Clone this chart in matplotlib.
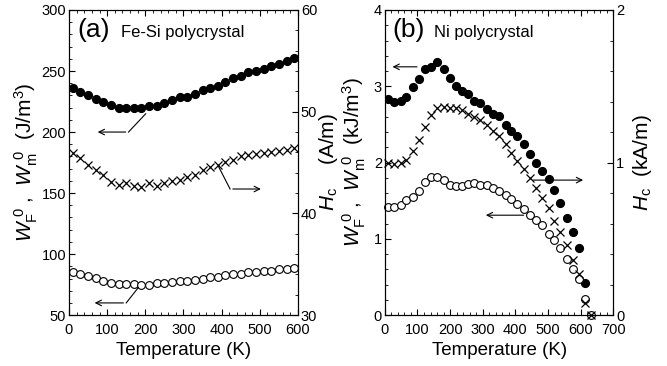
import matplotlib
matplotlib.use("Agg")
import matplotlib.pyplot as plt
from matplotlib.ticker import MultipleLocator

plt.rcParams['font.family'] = ['Liberation Sans', 'DejaVu Sans']
plt.rcParams['mathtext.fontset'] = 'custom'
plt.rcParams['mathtext.rm'] = 'Liberation Sans'
plt.rcParams['mathtext.it'] = 'Liberation Sans:italic'

# (a) Fe-Si polycrystal
t_a = [10, 30, 50, 70, 90, 110, 130, 150, 170, 190, 210, 230, 250, 270, 290,
       310, 330, 350, 370, 390, 410, 430, 450, 470, 490, 510, 530, 550, 570, 590]
wf_a = [236, 233, 230, 227, 225, 222, 219.5, 219.5, 219.5, 219.5, 221.5, 221.5, 224, 226.5, 228.5,
        229, 231.5, 234.5, 236, 238, 241, 244, 246, 249, 250, 252, 254.5, 256, 258, 261]
hc_a = [45.9, 45.4, 44.75, 44.3, 43.8, 43.1, 42.8, 43.0, 42.7, 42.6, 43.0, 42.7, 43.0, 43.2, 43.3,
        43.6, 43.8, 44.3, 44.6, 44.75, 45.1, 45.3, 45.6, 45.7, 45.8, 45.9, 46.0, 46.1, 46.2, 46.4]
wm_a = [85.5, 84, 82.2, 80.5, 78, 76.5, 75.5, 75.5, 75.5, 74.6, 74.6, 76, 76.5, 77.3, 78,
        78, 78.7, 80, 81.4, 81.4, 82.8, 83.6, 83.6, 85.5, 85.5, 86, 86.3, 88, 88, 88.8]

# (b) Ni polycrystal
t_b = [10, 29, 48, 66, 86, 104, 124, 142, 161, 181, 199, 218, 236, 255, 273, 291, 312,
       332, 349, 370, 388, 406, 426, 445, 463, 480, 502, 519, 537, 557, 575, 595, 613]
wf_b = [2.83, 2.80, 2.81, 2.86, 2.99, 3.09, 3.23, 3.25, 3.32, 3.22, 3.11, 3.00, 2.94, 2.90, 2.81, 2.78, 2.70,
        2.64, 2.61, 2.49, 2.41, 2.35, 2.24, 2.11, 1.99, 1.89, 1.78, 1.64, 1.47, 1.27, 1.09, 0.875, 0.42]
hc_b = [1.0, 0.99, 1.0, 1.02, 1.075, 1.15, 1.235, 1.315, 1.355, 1.365, 1.36, 1.355, 1.345, 1.32, 1.30, 1.28, 1.245,
        1.21, 1.175, 1.12, 1.065, 1.01, 0.96, 0.90, 0.83, 0.765, 0.70, 0.62, 0.545, 0.46, 0.36, 0.27, 0.08]
wm_b = [1.42, 1.42, 1.45, 1.51, 1.55, 1.63, 1.74, 1.81, 1.81, 1.77, 1.71, 1.69, 1.69, 1.72, 1.73, 1.70, 1.70,
        1.66, 1.63, 1.57, 1.52, 1.46, 1.39, 1.31, 1.25, 1.18, 1.07, 0.98, 0.875, 0.74, 0.61, 0.48, 0.205]
tc_b = 632  # all quantities vanish at Curie point

fig = plt.figure(figsize=(6.67, 3.66), dpi=100)
ax1 = fig.add_axes([0.1034, 0.139, 0.3434, 0.8337])
ax2 = fig.add_axes([0.577, 0.139, 0.3425, 0.8337])

ms = 5.6
xlab_fs = 13.5
ylab_fs = 15
tick_fs = 10.5


def style(ax, xmaj, xmin, ymaj, ymin):
    ax.xaxis.set_major_locator(MultipleLocator(xmaj))
    ax.xaxis.set_minor_locator(MultipleLocator(xmin))
    ax.yaxis.set_major_locator(MultipleLocator(ymaj))
    ax.yaxis.set_minor_locator(MultipleLocator(ymin))
    ax.tick_params(which='both', direction='in', top=True, labelsize=tick_fs)
    ax.tick_params(axis='y', which='both', pad=2)
    ax.tick_params(axis='x', which='both', pad=6)
    ax.tick_params(which='major', length=4.5)
    ax.tick_params(which='minor', length=2.5)


def right_style(ax, ymaj, ymin):
    ax.yaxis.set_major_locator(MultipleLocator(ymaj))
    ax.yaxis.set_minor_locator(MultipleLocator(ymin))
    ax.tick_params(which='both', direction='in', labelsize=tick_fs, pad=2)
    ax.tick_params(which='major', length=4.5)
    ax.tick_params(which='minor', length=2.5)


def arrow(ax, path, head):
    xs = [p[0] for p in path]
    ys = [p[1] for p in path]
    ax.plot(xs, ys, color='black', lw=0.8)
    ax.annotate('', xy=head, xytext=path[-1],
                arrowprops=dict(arrowstyle='->', color='black', lw=0.8))


wlab = r'$W_{\rm F}^{\ 0}$ ,  $W_{\rm m}^{\ 0}$  '

# ---- panel (a)
ax1.plot(t_a, wf_a, 'o', color='black', ms=ms, ls='none')
ax1.plot(t_a, wm_a, 'o', mfc='white', mec='black', mew=0.8, ms=ms, ls='none')
ax1.set_xlim(0, 600)
ax1.set_ylim(50, 300)
style(ax1, 100, 20, 50, 10)
ax1.set_xlabel('Temperature (K)', fontsize=xlab_fs, labelpad=3)
ax1.set_ylabel(wlab + '(J/m$^3$)', fontsize=ylab_fs, labelpad=1)

ax1r = ax1.twinx()
ax1r.plot(t_a, hc_a, 'x', color='black', ms=ms, mew=0.9, ls='none')
ax1r.set_ylim(30, 60)
right_style(ax1r, 10, 2)
ax1r.set_ylabel(r'$H_{\rm c}$    (A/m)', fontsize=ylab_fs, labelpad=0)

arrow(ax1, [(201, 215), (156, 200)], (68, 200))
arrow(ax1, [(182, 72.7), (150, 60)], (60, 60))
arrow(ax1r, [(392, 44.6), (422, 42.4)], (510, 42.4))

ax1.text(0.035, 0.975, '(a)', transform=ax1.transAxes, fontsize=19, va='top')
ax1.text(0.225, 0.95, 'Fe-Si polycrystal', transform=ax1.transAxes, fontsize=12, va='top')

# ---- panel (b)
ax2.plot(t_b, wf_b, 'o', color='black', ms=ms, ls='none')
ax2.plot(t_b + [tc_b], wm_b + [0], 'o', mfc='white', mec='black', mew=0.8, ms=ms, ls='none',
         clip_on=False)
ax2.set_xlim(0, 700)
ax2.set_ylim(0, 4)
style(ax2, 100, 20, 1, 0.2)
ax2.set_xlabel('Temperature (K)', fontsize=xlab_fs, labelpad=3)
ax2.set_ylabel(wlab + '(kJ/m$^3$)', fontsize=ylab_fs, labelpad=4)

ax2r = ax2.twinx()
ax2r.plot(t_b + [tc_b], hc_b + [0], 'x', color='black', ms=ms, mew=0.9, ls='none', clip_on=False)
ax2r.set_ylim(0, 2)
right_style(ax2r, 1, 0.2)
ax2r.set_ylabel(r'$H_{\rm c}$  (kA/m)', fontsize=ylab_fs, labelpad=5)

ax2.annotate('', xy=(15, 3.255), xytext=(107, 3.255),
             arrowprops=dict(arrowstyle='->', color='black', lw=0.8))
ax2.annotate('', xy=(301, 1.31), xytext=(434, 1.31),
             arrowprops=dict(arrowstyle='->', color='black', lw=0.8))
ax2.annotate('', xy=(616, 1.77), xytext=(445, 1.77),
             arrowprops=dict(arrowstyle='->', color='black', lw=0.8))

ax2.text(0.035, 0.975, '(b)', transform=ax2.transAxes, fontsize=19, va='top')
ax2.text(0.215, 0.95, 'Ni polycrystal', transform=ax2.transAxes, fontsize=12, va='top')

fig.savefig('out.png', dpi=100)
